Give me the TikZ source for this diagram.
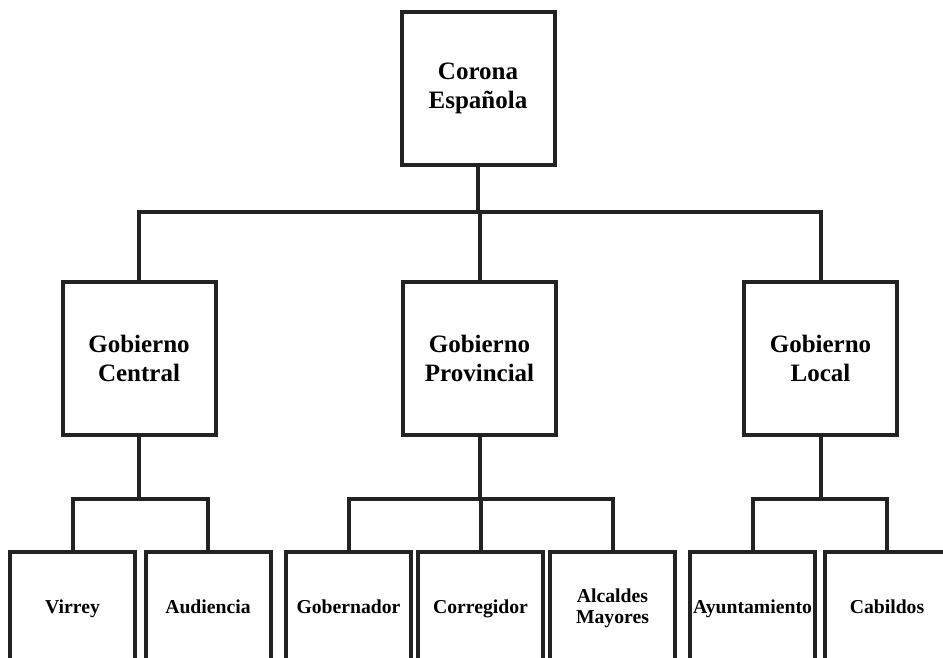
\documentclass[tikz,border=0pt]{standalone}
\usepackage{fontspec}
\setmainfont{Liberation Serif}
\definecolor{ink}{HTML}{222222}
\begin{document}
\begin{tikzpicture}[x=1pt,y=-1pt,
  orgbox/.style={draw=ink, line width=4pt, rectangle, inner sep=0pt, align=center},
  bigbox/.style={orgbox, minimum width=153pt, minimum height=153pt,
    font=\bfseries\fontsize{25}{28.5}\selectfont},
  smallbox/.style={orgbox, minimum width=125pt, minimum height=112pt,
    font=\bfseries\fontsize{19.7}{21}\selectfont},
  oneline/.style={smallbox, text height=14pt, text depth=4pt},
  link/.style={draw=ink, line width=4pt}
]
\useasboundingbox (0,0) rectangle (943,658);
\clip (0,0) rectangle (943,658);

% top level
\node[bigbox] (corona) at (478,88.5) {Corona\\Española};

% second level
\node[bigbox] (central)    at (139,358.5) {Gobierno\\Central};
\node[bigbox] (provincial) at (479.5,358.5) {Gobierno\\Provincial};
\node[bigbox] (local)      at (820.5,358.5) {Gobierno\\Local};

% third level (boxes run past the lower edge)
\node[oneline]  (virrey)       at (72.5,608)  {Virrey};
\node[oneline]  (audiencia)    at (208,608)   {Audiencia};
\node[oneline]  (gobernador)   at (348.5,608) {Gobernador};
\node[oneline]  (corregidor)   at (480.5,608) {Corregidor};
\node[smallbox] (alcaldes)     at (612.5,608) {Alcaldes\\Mayores};
\node[oneline]  (ayuntamiento) at (752.5,608) {Ayuntamiento};
\node[oneline]  (cabildos)     at (887,608)   {Cabildos};

% bus heights
\coordinate (bar1) at (0,212);
\coordinate (bar2) at (0,499);

% corona to governments
\draw[link] (corona.south) -- (corona.south |- bar1);
\draw[link] (central.north) -- (central.north |- bar1) -- (local.north |- bar1) -- (local.north);
\draw[link] (provincial.north) -- (provincial.north |- bar1);

% central government
\draw[link] (central.south) -- (central.south |- bar2);
\draw[link] (virrey.north) -- (virrey.north |- bar2) -- (audiencia.north |- bar2) -- (audiencia.north);

% provincial government
\draw[link] (provincial.south) -- (provincial.south |- bar2);
\draw[link] (gobernador.north) -- (gobernador.north |- bar2) -- (alcaldes.north |- bar2) -- (alcaldes.north);
\draw[link] (corregidor.north) -- (corregidor.north |- bar2);

% local government
\draw[link] (local.south) -- (local.south |- bar2);
\draw[link] (ayuntamiento.north) -- (ayuntamiento.north |- bar2) -- (cabildos.north |- bar2) -- (cabildos.north);
\end{tikzpicture}
\end{document}
